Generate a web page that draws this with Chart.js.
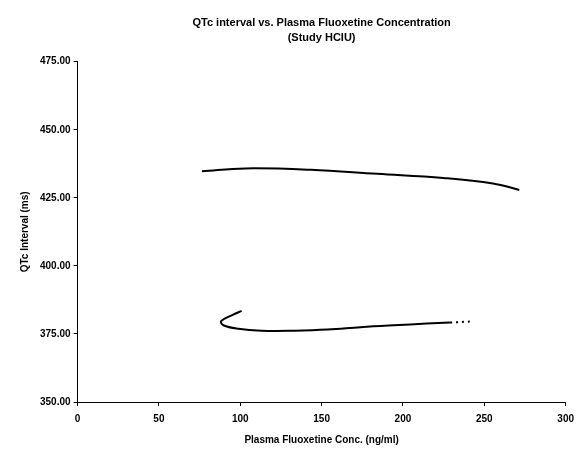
<!DOCTYPE html>
<html>
<head>
<meta charset="utf-8">
<script src="https://cdn.jsdelivr.net/npm/chart.js@4/dist/chart.umd.min.js"></script>
<style>
  body { margin: 0; background: #fff; }
  canvas { display: block; }
</style>
</head>
<body>
<canvas id="chartQtc" width="581" height="449"></canvas>
<script>
// upper curve (conc ng/ml, QTc ms)
const upperConc = [76.4, 102.9, 143.3, 184.1, 224.8, 255.3, 271.5];
const upperQtc = [434.8, 435.8, 435.3, 433.8, 432.3, 430.3, 427.9];
// lower curve, doubles back near 90 ng/ml
const lowerConc = [100.8, 94.7, 88.2, 89.6, 98.8, 113, 133.3, 153.7, 174, 194.3, 214.6, 228.9, 243.1];
const lowerQtc = [383.5, 381.8, 379.7, 378.2, 376.9, 376.2, 376.2, 376.6, 377.5, 378.2, 378.8, 379.2, 379.6];
const xTicks = [0, 50, 100, 150, 200, 250, 300];
const yTicks = [350, 375, 400, 425, 450, 475];

const toPoints = (xs, ys) => xs.map((x, i) => ({ x: x, y: ys[i] }));

const fontBold = (size) => ({ family: "'Liberation Sans', Arial, sans-serif", size: size, weight: 'bold' });

const ctx = document.getElementById('chartQtc').getContext('2d');
const chartQtc = new Chart(ctx, {
   type: 'scatter',
   data: {
      datasets: [{
         data: toPoints(upperConc, upperQtc),
         showLine: true,
         borderColor: '#000',
         borderWidth: 2,
         pointRadius: 0,
         tension: 0.4,
      }, {
         data: toPoints(lowerConc, lowerQtc),
         showLine: true,
         borderColor: '#000',
         borderWidth: 2,
         pointRadius: 0,
         tension: 0.4,
         segment: {
            borderDash: (c) => c.p1DataIndex === lowerConc.length - 1 ? [2, 4] : undefined,
         }
      }]
   },
   options: {
      responsive: false,
      animation: false,
      layout: { padding: { left: 19, right: 8, top: 12, bottom: 3 } },
      scales: {
         x: {
            type: 'linear',
            min: 0,
            max: 300,
            afterBuildTicks: (axis) => { axis.ticks = xTicks.map(v => ({ value: v })); },
            grid: { drawOnChartArea: false, tickLength: 4, color: '#000' },
            border: { color: '#000', width: 1 },
            ticks: { color: '#000', font: fontBold(10), padding: 7, maxRotation: 0 },
            title: { display: true, text: 'Plasma Fluoxetine Conc. (ng/ml)', color: '#000', font: fontBold(10), padding: { top: 2, bottom: 0 } }
         },
         y: {
            min: 350,
            max: 475,
            afterBuildTicks: (axis) => { axis.ticks = yTicks.map(v => ({ value: v })); },
            grid: { drawOnChartArea: false, tickLength: 4, color: '#000' },
            border: { color: '#000', width: 1 },
            ticks: { color: '#000', font: fontBold(10), padding: 3, callback: (v) => v.toFixed(2) },
            title: { display: true, text: 'QTc Interval (ms)', color: '#000', font: fontBold(10), padding: { top: 0, bottom: 6 } }
         }
      },
      plugins: {
         legend: { display: false },
         tooltip: { enabled: false },
         title: {
            display: true,
            fullSize: false,
            text: ['QTc interval vs. Plasma Fluoxetine Concentration', '(Study HCIU)'],
            color: '#000',
            font: { ...fontBold(11), lineHeight: 1.35 },
            padding: { top: 4, bottom: 16 }
         }
      }
   }
});
</script>
</body>
</html>
